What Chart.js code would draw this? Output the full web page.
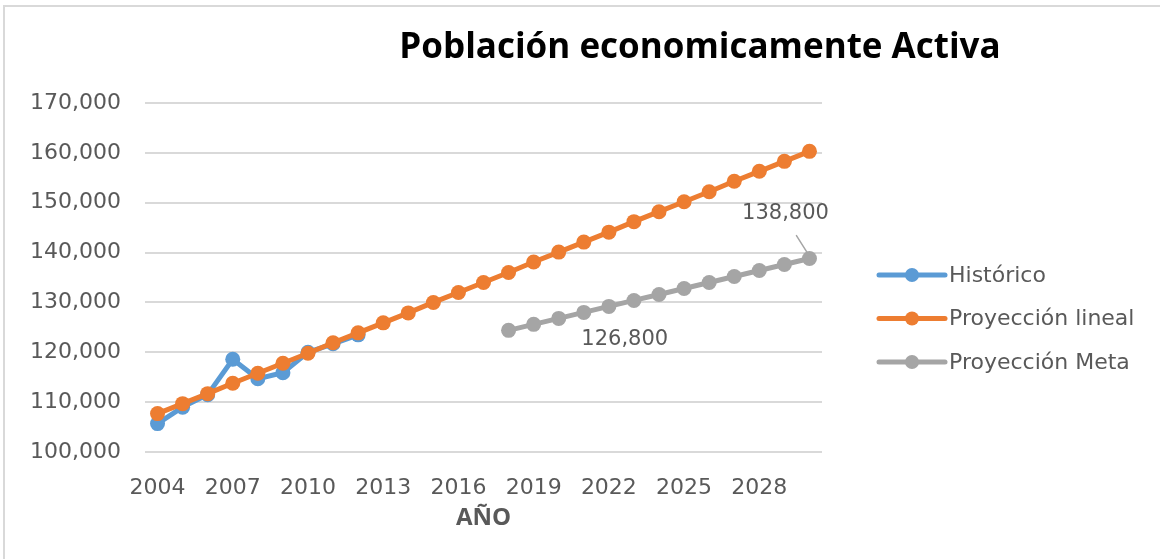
<!DOCTYPE html>
<html>
<head>
<meta charset="utf-8">
<script src="https://cdn.jsdelivr.net/npm/chart.js@4.4.0/dist/chart.umd.min.js"></script>
<style>
  html, body { margin: 0; padding: 0; background: #fff; }
  #wrap { width: 1160px; height: 559px; position: relative; }
</style>
</head>
<body>
<div id="wrap"><canvas id="chart" width="1160" height="559"></canvas></div>
<script>
// Data
const years = ["2004","2005","2006","2007","2008","2009","2010","2011","2012","2013","2014","2015","2016",
  "2017","2018","2019","2020","2021","2022","2023","2024","2025","2026","2027","2028","2029","2030"];
const shownYears = ["2004","2007","2010","2013","2016","2019","2022","2025","2028"];
const historico = [105700, 109000, 111500, 118600, 114700, 115900, 120000, 121700, 123500];
const proyeccionLineal = [107700, 109700, 111700, 113800, 115800, 117800, 119800, 121900, 123900,
  125900, 127900, 130000, 132000, 134000, 136000, 138100, 140100, 142100, 144100, 146200, 148200,
  150200, 152200, 154300, 156300, 158300, 160300];
const proyeccionMeta = [null, null, null, null, null, null, null, null, null, null, null, null, null, null,
  124400, 125600, 126800, 128000, 129200, 130400, 131600, 132800, 134000, 135200, 136400, 137600, 138800];
const metaLabelYears = ["2020", "2030"];

const seriesNames = ["Histórico", "Proyección lineal", "Proyección Meta"];
const seriesColors = ["#5b9bd5", "#ed7d31", "#a5a5a5"];

const textGray = "#595959";
const baseFont = "'DejaVu Sans', sans-serif";

function fmt(n) {
  return n.toLocaleString("en-US");
}

// Extra drawing: frame, title, legend, data labels
const decorations = {
  id: "decorations",
  beforeDraw(chart) {
    const ctx = chart.ctx;
    ctx.save();
    ctx.fillStyle = "#fff";
    ctx.fillRect(0, 0, chart.width, chart.height);
    ctx.strokeStyle = "#d9d9d9";
    ctx.lineWidth = 2;
    ctx.strokeRect(4, 6, chart.width + 20, chart.height + 20);
    ctx.restore();
  },
  afterDraw(chart) {
    const ctx = chart.ctx;
    const area = chart.chartArea;
    ctx.save();

    // title
    ctx.fillStyle = "#000";
    ctx.font = "bold 35px 'Open Sans', sans-serif";
    ctx.textAlign = "center";
    ctx.textBaseline = "middle";
    ctx.fillText("Población economicamente Activa", 700, 48);

    // legend
    ctx.font = "22px " + baseFont;
    ctx.textAlign = "left";
    const lx = area.right + 57;
    seriesNames.forEach((name, i) => {
      const y = 275 + i * 43.5;
      ctx.strokeStyle = seriesColors[i];
      ctx.lineWidth = 5;
      ctx.lineCap = "round";
      ctx.beginPath();
      ctx.moveTo(lx, y);
      ctx.lineTo(lx + 66, y);
      ctx.stroke();
      ctx.fillStyle = seriesColors[i];
      ctx.beginPath();
      ctx.arc(lx + 33, y, 7, 0, Math.PI * 2);
      ctx.fill();
      ctx.fillStyle = textGray;
      ctx.fillText(name, lx + 70, y + 1);
    });

    // data labels on the meta series
    const meta = chart.getDatasetMeta(2);
    ctx.font = "21px " + baseFont;
    ctx.textAlign = "center";
    ctx.fillStyle = textGray;
    metaLabelYears.forEach(yr => {
      const idx = years.indexOf(yr);
      const pt = meta.data[idx];
      const txt = fmt(proyeccionMeta[idx]);
      if (yr === "2030") {
        ctx.fillText(txt, pt.x - 24, pt.y - 45);
        ctx.strokeStyle = "#a5a5a5";
        ctx.lineWidth = 1.5;
        ctx.beginPath();
        ctx.moveTo(pt.x - 13, pt.y - 23);
        ctx.lineTo(pt.x - 1, pt.y - 4);
        ctx.stroke();
      } else {
        ctx.fillText(txt, pt.x + 66, pt.y + 21);
      }
    });
    ctx.restore();
  }
};

function makeSet(i, data, order) {
  return {
    label: seriesNames[i],
    data: data,
    borderColor: seriesColors[i],
    backgroundColor: seriesColors[i],
    pointBackgroundColor: seriesColors[i],
    pointBorderWidth: 0,
    pointRadius: 7.5,
    borderWidth: 5,
    tension: 0,
    order: order
  };
}

new Chart(document.getElementById("chart"), {
  type: "line",
  data: {
    labels: years,
    datasets: [
      makeSet(0, historico, 3),
      makeSet(1, proyeccionLineal, 2),
      makeSet(2, proyeccionMeta, 1)
    ]
  },
  options: {
    responsive: false,
    animation: false,
    layout: { padding: { top: 103, right: 338, left: 0, bottom: 0 } },
    plugins: {
      legend: { display: false },
      title: { display: false },
      tooltip: { enabled: false }
    },
    scales: {
      x: {
        offset: true,
        grid: { display: false },
        border: { display: false },
        ticks: {
          autoSkip: false,
          maxRotation: 0,
          padding: 15,
          color: textGray,
          font: { family: baseFont, size: 22 },
          callback: function (val) {
            const lab = this.getLabelForValue(val);
            return shownYears.includes(lab) ? lab : "";
          }
        },
        title: {
          display: true,
          text: "AÑO",
          color: textGray,
          font: { family: "'Open Sans', sans-serif", size: 24, weight: "bold" },
          padding: { top: 0, bottom: 26 }
        },
        afterFit(scale) { scale.height = 107; }
      },
      y: {
        min: 100000,
        max: 170000,
        grid: { color: "#d9d9d9", lineWidth: 2, drawTicks: false },
        border: { display: false },
        ticks: {
          stepSize: 10000,
          padding: 24,
          color: textGray,
          font: { family: baseFont, size: 22 },
          callback: v => fmt(v)
        },
        afterFit(scale) { scale.width = 145; }
      }
    }
  },
  plugins: [decorations]
});
</script>
</body>
</html>
